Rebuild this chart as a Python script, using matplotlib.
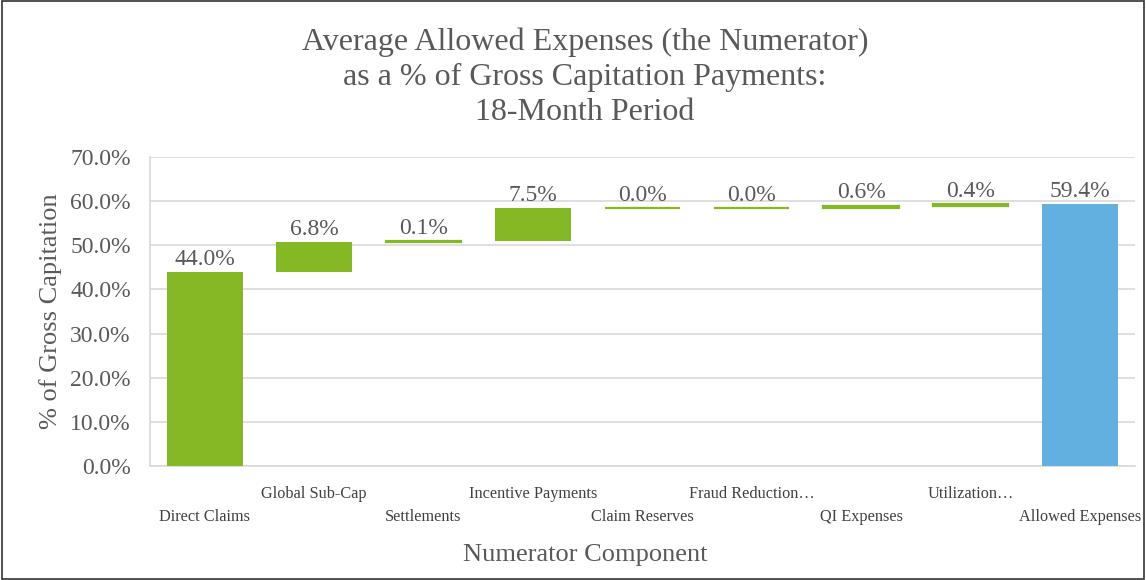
import numpy as np
import matplotlib.pyplot as plt
from matplotlib.patches import Rectangle

plt.rcParams['font.family'] = ['Liberation Serif', 'DejaVu Serif']

# data
categories = ["Direct Claims", "Global Sub-Cap", "Settlements", "Incentive Payments",
              "Claim Reserves", "Fraud Reduction\u2026", "QI Expenses", "Utilization\u2026",
              "Allowed Expenses"]
steps = [44.0, 6.8, 0.1, 7.5, 0.0, 0.0, 0.6, 0.4]
total = 59.4
yticks = [0, 10, 20, 30, 40, 50, 60, 70]

green = "#84b824"
blue = "#62b0e0"
text_col = "#595959"

# waterfall bottoms / heights
bottoms = np.concatenate([[0], np.cumsum(steps)[:-1], [0]])
heights = np.array(steps + [total])
colors = [green] * len(steps) + [blue]

fig = plt.figure(figsize=(11.46, 5.8), dpi=100)
ax = fig.add_axes([0.131, 0.1966, 0.859, 0.5325])

x = np.arange(len(categories))
for i in range(len(x)):
    lw = 1.6 if heights[i] < 1 else 0
    ax.bar(x[i], heights[i], bottom=bottoms[i], width=0.69, color=colors[i],
           edgecolor=colors[i], linewidth=lw, zorder=3)
    ax.text(x[i], bottoms[i] + heights[i] + 0.5, f"{heights[i]:.1f}%",
            ha="center", va="bottom", fontsize=17, color=text_col, zorder=4)

ax.set_xlim(-0.5, len(categories) - 0.5)
ax.set_ylim(0, 70)
ax.set_yticks(yticks)
ax.set_yticklabels([f"{v:.1f}%" for v in yticks], fontsize=17, color=text_col)
ax.yaxis.grid(True, color="#d9d9d9", linewidth=1.2, zorder=0)
ax.tick_params(axis="both", length=0)
ax.tick_params(axis="y", pad=14)

# staggered category labels
ax.set_xticks(x)
ax.set_xticklabels([])
for i, lab in enumerate(categories):
    off = -0.165 if i % 2 == 0 else -0.09
    ax.text(x[i], off, lab, transform=ax.get_xaxis_transform(), ha="center",
            va="center", fontsize=11.7, color="#404040")

for s in ["top", "right"]:
    ax.spines[s].set_visible(False)
for s in ["left", "bottom"]:
    ax.spines[s].set_color("#d9d9d9")
    ax.spines[s].set_linewidth(1.2)

ax.set_ylabel("% of Gross Capitation", fontsize=19, color=text_col, labelpad=6)
fig.text(0.5105, 0.043, "Numerator Component", ha="center", va="center",
         fontsize=19, color=text_col)

fig.text(0.5105, 0.867, "Average Allowed Expenses (the Numerator)\nas a % of Gross Capitation Payments:\n18-Month Period",
         ha="center", va="center", fontsize=23, color=text_col, linespacing=1.27)

# thin frame around the figure
fig.patches.append(Rectangle((0.002, 0.002), 0.996, 0.996, transform=fig.transFigure,
                             fill=False, edgecolor="#333333", linewidth=1.2))

fig.savefig("out.png", dpi=100)
